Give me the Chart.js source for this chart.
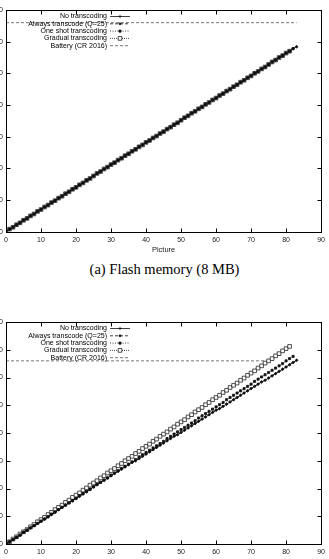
<!DOCTYPE html>
<html>
<head>
<meta charset="utf-8">
<script src="https://cdn.jsdelivr.net/npm/chart.js@4.4.0/dist/chart.umd.min.js"></script>
<style>
    html, body { margin: 0; padding: 0; background: #fff; width: 329px; height: 559px; overflow: hidden; position: relative; }
    .plot { position: absolute; left: -34px; width: 363px; }
    #wrapFlash { top: 0; height: 258px; }
    #wrapSd { top: 310px; height: 270px; }
    .caption { position: absolute; left: 0; width: 329px; text-align: center; line-height: 16px;
               font-family: "Liberation Serif", "DejaVu Serif", serif; font-size: 14.5px; color: #000; }
    #capFlash { top: 261px; }
</style>
</head>
<body>
<div class="plot" id="wrapFlash"><canvas id="flashChart"></canvas></div>
<div class="caption" id="capFlash">(a) Flash memory (8 MB)</div>
<div class="plot" id="wrapSd"><canvas id="sdChart"></canvas></div>
<script>
// x axis: picture number, y axis labels are cut off in the figure (only last digit visible)
const xTickValues = [0, 10, 20, 30, 40, 50, 60, 70, 80, 90];
const flashYTicks = [0, 50, 100, 150, 200, 250, 300, 350];
const sdYTicks = [0, 50, 100, 150, 200, 250, 300, 350, 400];

const seriesLabels = ['No transcoding', 'Always transcode (Q=25)', 'One shot transcoding', 'Gradual transcoding', 'Battery (CR 2016)'];

// battery capacity (horizontal line) and where it stops
const batteryLevel = 330;
const batteryEndFlash = 83;
const batteryEndSd = 74;

// (a) flash memory: all strategies overlap, value per picture index
const flashEnergy = [0, 4, 7, 11, 14, 18, 21, 25, 28, 32, 35, 39, 42, 46, 49, 53, 56, 60, 63, 67,
    70, 74, 77, 81, 84, 88, 92, 95, 99, 102, 106, 109, 113, 116, 120, 123, 127, 130, 134, 137,
    141, 144, 148, 151, 155, 158, 162, 165, 169, 172, 176, 180, 183, 187, 190, 194, 197, 201, 204, 208,
    211, 215, 218, 222, 225, 229, 232, 236, 239, 243, 246, 250, 253, 257, 260, 264, 268, 271, 275, 278,
    282, 285, 289, 292];

// (b) second storage: strategies diverge
const sdNoTranscoding = [0, 4, 8, 12, 16, 21, 25, 29, 33, 37, 41, 45, 49, 53, 57, 62, 66, 70, 74, 78,
    82, 86, 90, 94, 98, 103, 107, 111, 115, 119, 123, 127, 131, 135, 139, 143, 147, 150, 154, 158,
    162, 166, 170, 174, 178, 182, 186, 190, 194, 197, 201, 205, 209, 213, 217, 221, 225, 229, 233, 237,
    241, 244, 248, 252, 256, 260, 264, 268, 272, 276, 280, 284, 288, 292, 295, 299, 303, 307, 311, 315,
    319, 323, 327, 331];
const sdAlways = sdNoTranscoding;
const sdOneShot = [0, 4, 8, 12, 16, 21, 25, 29, 33, 37, 41, 45, 49, 54, 58, 62, 66, 70, 74, 78,
    82, 87, 91, 95, 99, 103, 107, 111, 115, 119, 124, 128, 132, 136, 140, 144, 148, 152, 157, 161,
    165, 169, 173, 177, 181, 185, 190, 194, 198, 202, 206, 210, 214, 218, 222, 227, 231, 235, 239, 243,
    247, 251, 255, 260, 264, 268, 272, 276, 280, 284, 288, 293, 297, 301, 305, 309, 313, 317, 321, 325,
    330, 334, 338];
const sdGradual = [0, 4, 9, 13, 18, 22, 26, 31, 35, 40, 44, 48, 53, 57, 62, 66, 70, 75, 79, 84,
    88, 92, 97, 101, 106, 110, 114, 119, 123, 128, 132, 136, 141, 145, 150, 154, 158, 163, 167, 172,
    176, 180, 185, 189, 194, 198, 202, 207, 211, 216, 220, 224, 229, 233, 238, 242, 246, 251, 255, 260,
    264, 268, 273, 277, 282, 286, 290, 295, 299, 304, 308, 312, 317, 321, 326, 330, 334, 339, 343, 348,
    352, 356];

// line / marker looks, gnuplot-like
const seriesStyles = [
    { dash: [], width: 0.8, point: 'cross', radius: 1.6, hollow: false, color: '#111' },
    { dash: [3, 2], width: 0.8, point: 'circle', radius: 1.0, hollow: false, color: '#111' },
    { dash: [1, 1.5], width: 0.8, point: 'rect', radius: 1.5, hollow: false, color: '#111' },
    { dash: [1, 1], width: 0.8, point: 'rect', radius: 2.6, hollow: true, color: '#222' },
    { dash: [3, 2], width: 0.8, point: null, radius: 0, hollow: false, color: '#555' },
];

const toPoints = values => values.map((v, i) => ({ x: i, y: v }));

function drawMarker(ctx, st, x, y) {
    if (!st.point) return;
    ctx.setLineDash([]);
    ctx.lineWidth = 0.8;
    ctx.strokeStyle = st.color;
    ctx.fillStyle = st.hollow ? '#fff' : st.color;
    ctx.beginPath();
    if (st.point === 'cross') {
        ctx.moveTo(x - st.radius, y); ctx.lineTo(x + st.radius, y);
        ctx.moveTo(x, y - st.radius); ctx.lineTo(x, y + st.radius);
        ctx.stroke();
    } else if (st.point === 'rect') {
        const s = st.radius * Math.SQRT1_2;
        ctx.rect(x - s, y - s, 2 * s, 2 * s);
        ctx.fill(); ctx.stroke();
    } else {
        ctx.arc(x, y, st.radius, 0, Math.PI * 2);
        ctx.fill(); ctx.stroke();
    }
}

// border box, inward ticks on all four sides and the key
const gnuplotFrame = {
    id: 'gnuplotFrame',
    afterDatasetsDraw(chart, args, opts) {
        const { ctx, chartArea: a, scales: { x, y } } = chart;
        ctx.save();
        ctx.strokeStyle = '#000';
        ctx.lineWidth = 1;
        ctx.setLineDash([]);
        const L = Math.round(a.left) + 0.5, R = Math.round(a.right) + 0.5;
        const T = Math.round(a.top) + 0.5, B = Math.round(a.bottom) + 0.5;
        ctx.strokeRect(L, T, R - L, B - T);
        const tl = 4;
        ctx.beginPath();
        x.ticks.forEach(t => {
            const px = Math.round(x.getPixelForValue(t.value)) + 0.5;
            ctx.moveTo(px, B); ctx.lineTo(px, B - tl);
            ctx.moveTo(px, T); ctx.lineTo(px, T + tl);
        });
        y.ticks.forEach(t => {
            const py = Math.round(y.getPixelForValue(t.value)) + 0.5;
            ctx.moveTo(L, py); ctx.lineTo(L + tl, py);
            ctx.moveTo(R, py); ctx.lineTo(R - tl, py);
        });
        ctx.stroke();

        // key
        ctx.font = '7px "Liberation Sans", Arial, sans-serif';
        ctx.textAlign = 'right';
        ctx.textBaseline = 'middle';
        chart.data.datasets.forEach((ds, i) => {
            const st = seriesStyles[i];
            const ry = a.top + opts.keyTop + i * opts.keyStep;
            ctx.fillStyle = '#000';
            ctx.fillText(ds.label, a.left + opts.textRight, ry);
            ctx.strokeStyle = st.color;
            ctx.lineWidth = st.width;
            ctx.setLineDash(st.dash);
            ctx.beginPath();
            ctx.moveTo(a.left + opts.sampleLeft, ry);
            ctx.lineTo(a.left + opts.sampleRight, ry);
            ctx.stroke();
            drawMarker(ctx, st, a.left + (opts.sampleLeft + opts.sampleRight) / 2, ry);
        });
        ctx.restore();
    }
};

function makeDatasets(seriesData, batteryEnd) {
    const sets = seriesData.map((values, i) => {
        const st = seriesStyles[i];
        return {
            label: seriesLabels[i],
            data: toPoints(values),
            borderColor: st.color,
            borderWidth: st.width,
            borderDash: st.dash,
            pointStyle: st.point,
            pointRadius: st.radius,
            pointBorderWidth: 0.8,
            pointBorderColor: st.color,
            pointBackgroundColor: st.hollow ? '#fff' : st.color,
            fill: false,
            tension: 0,
        };
    });
    const bst = seriesStyles[4];
    sets.push({
        label: seriesLabels[4],
        data: [{ x: 0, y: batteryLevel }, { x: batteryEnd, y: batteryLevel }],
        borderColor: bst.color,
        borderWidth: bst.width,
        borderDash: bst.dash,
        pointRadius: 0,
        fill: false,
    });
    return sets;
}

function makeChart(canvasId, datasets, yTicks, padTop, xAxisHeight) {
    const tickFont = { family: '"Liberation Sans", Arial, sans-serif', size: 7 };
    return new Chart(document.getElementById(canvasId).getContext('2d'), {
        type: 'line',
        data: { datasets },
        options: {
            responsive: true,
            maintainAspectRatio: false,
            animation: false,
            events: [],
            layout: { padding: { top: padTop, right: 7, bottom: 0, left: 0 } },
            plugins: {
                legend: { display: false },
                tooltip: { enabled: false },
                gnuplotFrame: { keyTop: 6.5, keyStep: 7.3, textRight: 101, sampleLeft: 104, sampleRight: 124 },
            },
            scales: {
                x: {
                    type: 'linear',
                    min: xTickValues[0],
                    max: xTickValues[xTickValues.length - 1],
                    afterBuildTicks: s => { s.ticks = xTickValues.map(v => ({ value: v })); },
                    afterFit: s => { s.height = xAxisHeight; },
                    grid: { display: false, drawTicks: false },
                    border: { display: false },
                    ticks: { font: tickFont, color: '#222', padding: 4, maxRotation: 0 },
                    title: {
                        display: true, text: 'Picture', color: '#222',
                        font: { family: '"Liberation Sans", Arial, sans-serif', size: 7.5 },
                        padding: { top: 0, bottom: 4 },
                    },
                },
                y: {
                    type: 'linear',
                    min: yTicks[0],
                    max: yTicks[yTicks.length - 1],
                    afterBuildTicks: s => { s.ticks = yTicks.map(v => ({ value: v })); },
                    afterFit: s => { s.width = 40; },
                    grid: { display: false, drawTicks: false },
                    border: { display: false },
                    ticks: { font: tickFont, color: '#222', padding: 3 },
                },
            },
        },
        plugins: [gnuplotFrame],
    });
}

makeChart('flashChart',
    makeDatasets([flashEnergy, flashEnergy, flashEnergy.slice(0, 83), flashEnergy.slice(0, 82)], batteryEndFlash),
    flashYTicks, 10, 26.3);

makeChart('sdChart',
    makeDatasets([sdNoTranscoding, sdAlways, sdOneShot, sdGradual], batteryEndSd),
    sdYTicks, 12, 36);
</script>
</body>
</html>
